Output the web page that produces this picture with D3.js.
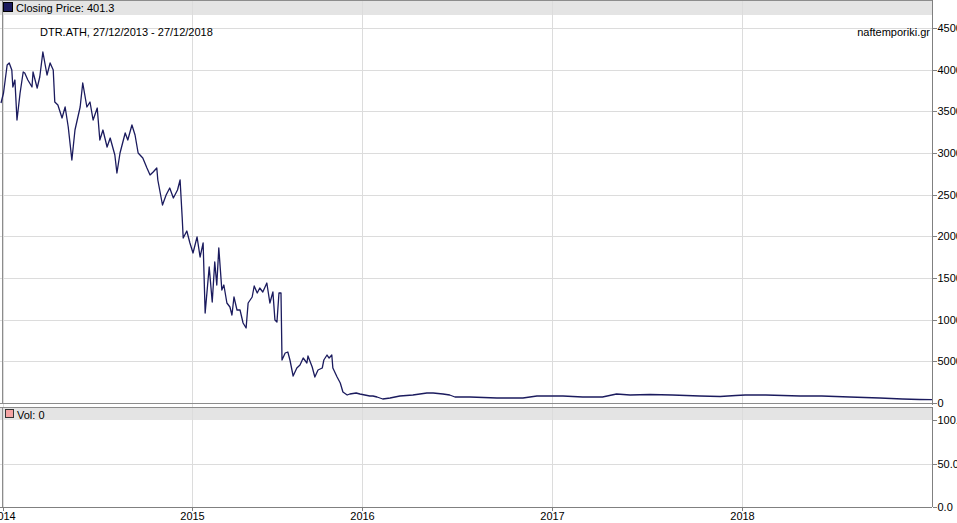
<!DOCTYPE html>
<html>
<head>
<meta charset="utf-8">
<script src="https://cdn.jsdelivr.net/npm/d3@7"></script>
<style>
  html, body { margin: 0; padding: 0; background: #fff; overflow: hidden; }
  svg { display: block; font-family: "Liberation Sans", Arial, sans-serif; }
  .axis text { font-size: 11px; fill: #000; font-family: "Liberation Sans", Arial, sans-serif; }
  .axis path, .axis line { stroke: #808080; shape-rendering: crispEdges; }
</style>
</head>
<body>
<svg id="chart" width="957" height="523"></svg>
<script>
// ---- data ----
const symbol = "DTR.ATH";
const periodLabel = "DTR.ATH, 27/12/2013 - 27/12/2018";
const sourceLabel = "naftemporiki.gr";
const lastClose = 401.3;
const volumeLast = 0;

const dates = [
"2013-12-27","2014-01-02","2014-01-09","2014-01-13","2014-01-18","2014-01-20","2014-01-24","2014-01-28",
"2014-02-03","2014-02-09","2014-02-12","2014-02-18","2014-02-26","2014-02-28","2014-03-08","2014-03-13",
"2014-03-19","2014-03-27","2014-04-02","2014-04-08","2014-04-11","2014-04-17","2014-04-25","2014-05-01",
"2014-05-07","2014-05-14","2014-05-20","2014-05-30","2014-06-04","2014-06-12","2014-06-18","2014-06-24",
"2014-07-02","2014-07-07","2014-07-13","2014-07-21","2014-07-27","2014-08-05","2014-08-09","2014-08-15",
"2014-08-25","2014-08-30","2014-09-07","2014-09-13","2014-09-19","2014-09-28","2014-10-06","2014-10-12",
"2014-10-18","2014-10-25","2014-10-27","2014-11-05","2014-11-12","2014-11-19","2014-11-26","2014-12-04",
"2014-12-09","2014-12-13","2014-12-15","2014-12-22","2014-12-28","2015-01-03","2015-01-11","2015-01-17",
"2015-01-23","2015-01-27","2015-02-04","2015-02-10","2015-02-15","2015-02-19","2015-02-23","2015-03-01",
"2015-03-05","2015-03-11","2015-03-17","2015-03-21","2015-03-25","2015-03-31","2015-04-06","2015-04-12",
"2015-04-18","2015-04-22","2015-04-30","2015-05-04","2015-05-10","2015-05-15","2015-05-21","2015-05-29",
"2015-06-04","2015-06-10","2015-06-14","2015-06-18","2015-06-22","2015-06-26","2015-08-03","2015-08-09",
"2015-08-14","2015-08-18","2015-08-24","2015-08-31","2015-09-06","2015-09-12","2015-09-19","2015-09-21",
"2015-09-29","2015-10-04","2015-10-10","2015-10-18","2015-10-21","2015-10-27","2015-10-31","2015-11-05",
"2015-11-07","2015-11-15","2015-11-21","2015-11-26","2015-12-04","2015-12-09","2015-12-21","2015-12-28",
"2016-01-16","2016-01-22","2016-01-30","2016-02-10","2016-02-24","2016-03-14","2016-04-08","2016-05-05",
"2016-05-17","2016-06-05","2016-06-18","2016-06-28","2016-07-27","2016-09-17","2016-11-06","2016-12-03",
"2017-01-22","2017-03-01","2017-04-08","2017-05-05","2017-05-31","2017-07-08","2017-08-20","2017-10-12",
"2017-11-20","2017-12-20","2018-01-07","2018-02-15","2018-04-21","2018-06-01","2018-07-24","2018-09-19",
"2018-11-01","2018-12-03","2018-12-27"
];
const closes = [
36000,37200,40560,40800,39960,37920,38760,33960,
37200,39720,39600,38760,37920,39720,37800,39120,
42120,39360,40800,39960,36120,35760,34200,35520,
33120,29160,32760,35520,38400,35520,36120,33960,
35400,31560,32760,30720,31800,29760,27600,30000,
32400,31560,33360,32160,30000,29400,28200,27360,
27720,28200,26760,23760,24960,25800,24600,25560,
26760,22320,19800,20640,19200,18000,19920,17520,
19200,10800,16320,12120,16920,14160,18600,13560,
14160,12000,11520,10560,12720,11160,11160,9600,
9000,12000,12720,14040,13200,13800,13320,14400,
12000,13320,9960,9720,13200,13200,5160,6000,
6120,5160,3240,4200,4560,5400,4800,5640,
4320,3120,3960,4200,5160,5760,5400,5760,
4200,3120,2400,1320,960,1080,1200,1080,
840,840,720,480,600,840,960,1200,
1200,1080,960,720,720,600,600,840,
840,720,720,1080,960,1020,960,840,
780,900,960,960,840,840,720,600,
480,420,401.3
];
const yearTicks = ["2014-01-01","2015-01-01","2016-01-01","2017-01-01","2018-01-01"];
const priceTicks = [0,5000,10000,15000,20000,25000,30000,35000,40000,45000];
const volTicks = [0,50,100];

// ---- setup ----
const parse = d3.timeParse("%Y-%m-%d");
const data = dates.map((d, i) => ({date: parse(d), close: closes[i]}));

const svg = d3.select("#chart");
const W = 957, H = 523;
const plotL = 2, plotR = 932;
const top1 = 0, hdr1 = 14, bot1 = 403;
const top2 = 407, hdr2 = 420, bot2 = 507;

// trading-day time axis (Athens exchange closed 29 Jun - 31 Jul 2015)
const x = d3.scaleTime()
  .domain(["2013-12-27","2014-01-01","2015-01-01","2015-06-26","2015-08-03","2016-01-01","2017-01-01","2018-01-01","2018-12-27"].map(parse))
  .range([1, 3, 192, 281, 282, 362, 552, 742, 932]);

const y = d3.scaleLinear().domain([0, 45000]).range([bot1, 28]);
const yv = d3.scaleLinear().domain([0, 100]).range([bot2, hdr2]);

const grid = "#dcdcdc";

// headers
svg.append("rect").attr("x", 0).attr("y", top1).attr("width", plotR).attr("height", hdr1 + 1).attr("fill", "#e4e4e4");
svg.append("rect").attr("x", 0).attr("y", top2).attr("width", plotR).attr("height", hdr2 - top2).attr("fill", "#e4e4e4");

// vertical grid lines
svg.append("g").selectAll("line").data(yearTicks.map(parse)).join("line")
  .attr("x1", d => Math.round(x(d)) + 0.5).attr("x2", d => Math.round(x(d)) + 0.5)
  .attr("y1", 0).attr("y2", bot2)
  .attr("stroke", grid).attr("stroke-width", 1);

// horizontal grid lines
svg.append("g").selectAll("line").data(priceTicks.filter(d => d > 0)).join("line")
  .attr("x1", 0).attr("x2", plotR)
  .attr("y1", d => Math.round(y(d)) + 0.5).attr("y2", d => Math.round(y(d)) + 0.5)
  .attr("stroke", grid);
svg.append("g").selectAll("line").data(volTicks.filter(d => d > 0 && d < 100)).join("line")
  .attr("x1", 0).attr("x2", plotR)
  .attr("y1", d => Math.round(yv(d)) + 0.5).attr("y2", d => Math.round(yv(d)) + 0.5)
  .attr("stroke", grid);

// panel borders
const border = "#8c8c8c";
svg.append("line").attr("x1", 0).attr("x2", plotR).attr("y1", 0.5).attr("y2", 0.5).attr("stroke", border);
svg.append("line").attr("x1", 0).attr("x2", plotR).attr("y1", bot1 + 0.5).attr("y2", bot1 + 0.5).attr("stroke", border);
svg.append("line").attr("x1", 0).attr("x2", plotR).attr("y1", top2 + 0.5).attr("y2", top2 + 0.5).attr("stroke", border);
svg.append("line").attr("x1", plotL + 0.5).attr("x2", plotL + 0.5).attr("y1", 0).attr("y2", bot1).attr("stroke", border);
svg.append("line").attr("x1", plotL + 0.5).attr("x2", plotL + 0.5).attr("y1", top2).attr("y2", bot2).attr("stroke", border);

// price line
svg.append("path").datum(data)
  .attr("fill", "none")
  .attr("stroke", "#1b1b5e")
  .attr("stroke-width", 1.3)
  .attr("stroke-linejoin", "round")
  .attr("d", d3.line().x(d => x(d.date)).y(d => y(d.close)));

// right axes
svg.append("g").attr("class", "axis").attr("transform", `translate(${plotR + 0.5},0)`)
  .call(d3.axisRight(y).tickValues(priceTicks).tickSize(4).tickPadding(1).tickFormat(d3.format("d")))
  .call(g => g.select(".domain").attr("d", `M0,0V${bot1 + 2}`));
svg.append("g").attr("class", "axis").attr("transform", `translate(${plotR + 0.5},0)`)
  .call(d3.axisRight(yv).tickValues(volTicks).tickSize(4).tickPadding(1).tickFormat(d3.format(".1f")))
  .call(g => g.select(".domain").attr("d", `M0,${top2}V${bot2}`));

// bottom axis
svg.append("g").attr("class", "axis").attr("transform", `translate(0,${bot2 + 0.5})`)
  .call(d3.axisBottom(x).tickValues(yearTicks.map(parse)).tickSize(3).tickPadding(2).tickFormat(d3.timeFormat("%Y")))
  .call(g => g.select(".domain").attr("d", `M0,0H${plotR}`))
  .call(g => g.selectAll(".tick line").attr("stroke", "#000"));

// legends
svg.append("rect").attr("x", 3.5).attr("y", 2.5).attr("width", 9).attr("height", 9)
  .attr("fill", "#1b1b5e").attr("stroke", "#000");
svg.append("text").attr("x", 16).attr("y", 12).attr("font-size", 11)
  .text("Closing Price: " + lastClose);
svg.append("rect").attr("x", 5.5).attr("y", 409.5).attr("width", 8).attr("height", 8)
  .attr("fill", "#f4a3a3").attr("stroke", "#333");
svg.append("text").attr("x", 17).attr("y", 419).attr("font-size", 11)
  .text("Vol: " + volumeLast);

svg.append("text").attr("x", 40).attr("y", 36).attr("font-size", 11).text(periodLabel);
svg.append("text").attr("x", 930).attr("y", 36).attr("font-size", 11).attr("text-anchor", "end").text(sourceLabel);
</script>
</body>
</html>
